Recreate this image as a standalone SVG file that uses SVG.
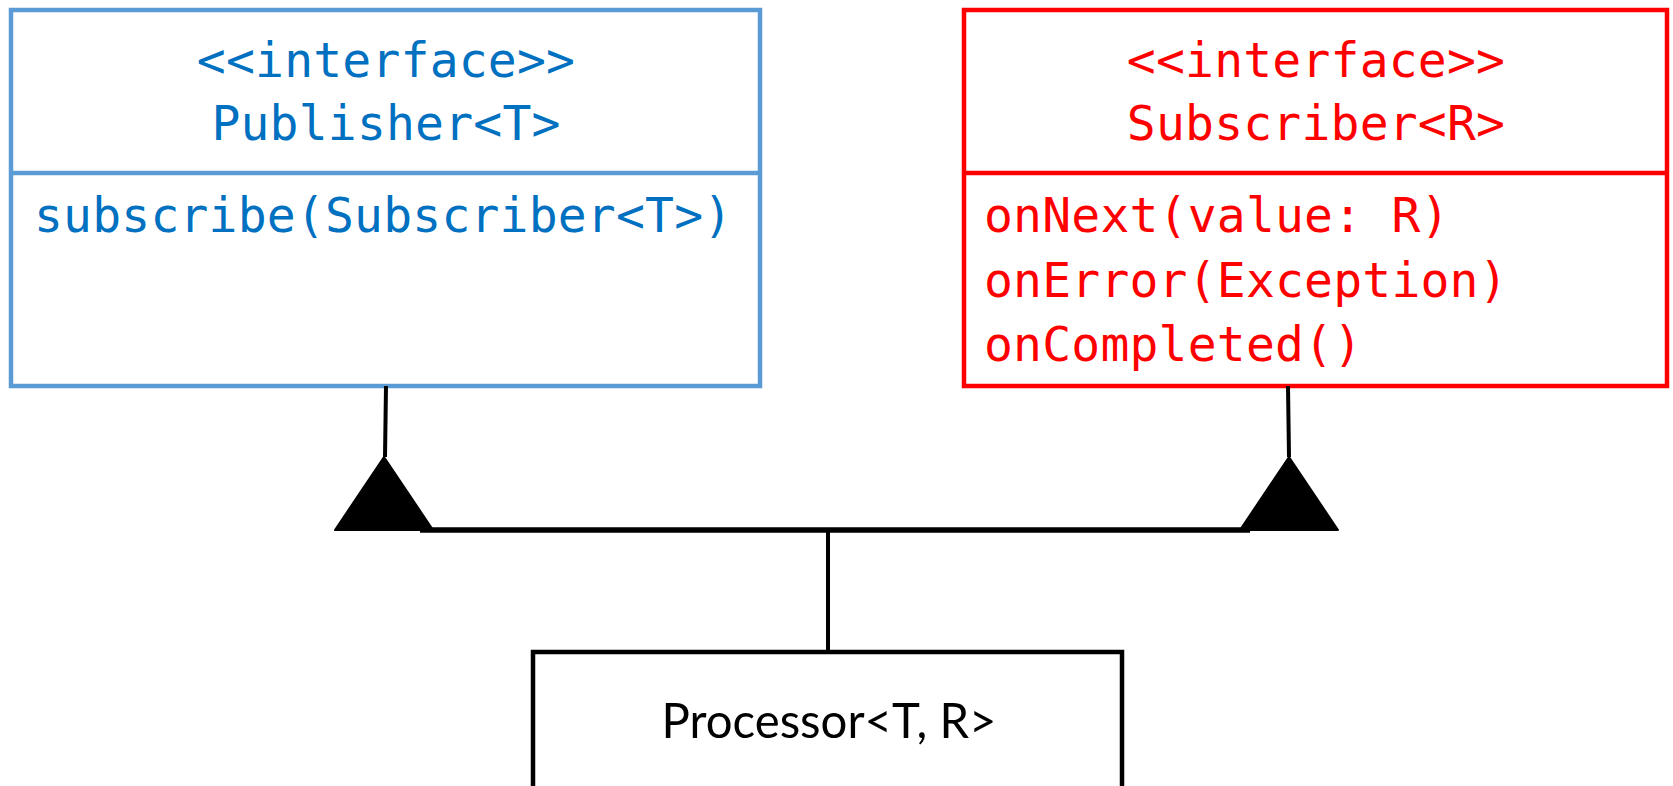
<svg xmlns="http://www.w3.org/2000/svg" width="1673" height="786" viewBox="0 0 1673 786">
  <style>
    .mono { font-family: "DejaVu Sans Mono", "Liberation Mono", monospace; font-size: 48px; letter-spacing: 0.2px; }
    .pub-box { fill: #FFFFFF; stroke: #5B9BD5; stroke-width: 4.5; }
    .pub-text { fill: #0070C0; }
    .sub-box { fill: #FFFFFF; stroke: #FF0000; stroke-width: 4.5; }
    .sub-text { fill: #FF0000; }
    .proc-box { fill: #FFFFFF; stroke: #000000; stroke-width: 4.5; }
    .proc-text { font-family: Lato, "Open Sans", "Liberation Sans", sans-serif; font-size: 49px; fill: #000000; }
    .wire { fill: none; stroke: #000000; stroke-width: 4; }
    .bar { fill: none; stroke: #000000; stroke-width: 5.5; }
    .head { fill: #000000; stroke: #000000; stroke-width: 2; stroke-linejoin: round; }
  </style>

  <!-- Publisher interface -->
  <g id="publisher">
    <rect class="pub-box" x="11" y="10" width="749" height="376"/>
    <line class="pub-box" x1="11" y1="173" x2="760" y2="173"/>
    <text class="mono pub-text" x="386" y="77" text-anchor="middle">&lt;&lt;interface&gt;&gt;</text>
    <text class="mono pub-text" x="386" y="140" text-anchor="middle">Publisher&lt;T&gt;</text>
    <text class="mono pub-text" x="34" y="232">subscribe(Subscriber&lt;T&gt;)</text>
  </g>

  <!-- Subscriber interface -->
  <g id="subscriber">
    <rect class="sub-box" x="964" y="10" width="703" height="376"/>
    <line class="sub-box" x1="964" y1="173" x2="1667" y2="173"/>
    <text class="mono sub-text" x="1316" y="77" text-anchor="middle">&lt;&lt;interface&gt;&gt;</text>
    <text class="mono sub-text" x="1316" y="140" text-anchor="middle">Subscriber&lt;R&gt;</text>
    <text class="mono sub-text" x="984" y="232">onNext(value: R)</text>
    <text class="mono sub-text" x="984" y="297">onError(Exception)</text>
    <text class="mono sub-text" x="984" y="361">onCompleted()</text>
  </g>

  <!-- Processor class -->
  <g id="processor">
    <rect class="proc-box" x="533" y="652" width="589" height="150"/>
    <text class="proc-text" x="829" y="738" text-anchor="middle" textLength="335" lengthAdjust="spacingAndGlyphs">Processor&lt;T, R&gt;</text>
  </g>

  <!-- Realization connectors -->
  <g id="connectors">
    <line class="wire" x1="386" y1="386" x2="385" y2="457"/>
    <line class="wire" x1="1288" y1="386" x2="1289" y2="457"/>
    <line class="bar" x1="420" y1="530" x2="1250" y2="530"/>
    <line class="wire" x1="828" y1="530" x2="828" y2="652"/>
    <polygon class="head" points="384,457 335,530 433,530"/>
    <polygon class="head" points="1289,457 1240,530 1338,530"/>
  </g>
</svg>
